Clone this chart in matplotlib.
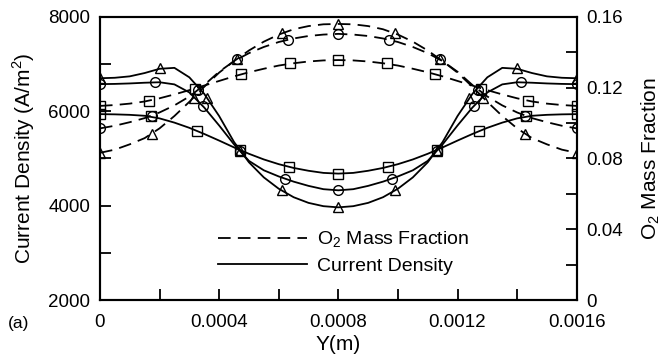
import numpy as np
import matplotlib
matplotlib.use("Agg")
from matplotlib import pyplot as plt
from matplotlib.ticker import MultipleLocator

plt.rcParams['font.family'] = ['Liberation Sans', 'DejaVu Sans']
plt.rcParams['mathtext.fontset'] = 'custom'
plt.rcParams['mathtext.rm'] = 'Liberation Sans'

# 曲线取样位置 (m)
y_pos = np.linspace(0, 0.0016, 33)

# 电流密度 (A/m2)，左轴，实线
cd_tri = [6700, 6710, 6740, 6810, 6900, 6920, 6720, 6370, 5900, 5350, 4920, 4600, 4360, 4180, 4060, 3990, 3965,
          3990, 4060, 4180, 4360, 4600, 4920, 5350, 5900, 6370, 6720, 6920, 6900, 6810, 6740, 6710, 6700]
cd_cir = [6575, 6580, 6590, 6605, 6615, 6570, 6400, 6080, 5700, 5300, 4950, 4750, 4620, 4510, 4420, 4350, 4326,
          4350, 4420, 4510, 4620, 4750, 4950, 5300, 5700, 6080, 6400, 6570, 6615, 6605, 6590, 6580, 6575]
cd_sq = [5940, 5935, 5925, 5905, 5850, 5760, 5650, 5520, 5380, 5235, 5100, 4980, 4880, 4800, 4740, 4695, 4680,
         4695, 4740, 4800, 4880, 4980, 5100, 5235, 5380, 5520, 5650, 5760, 5850, 5905, 5925, 5935, 5940]

# O2 质量分数，右轴，虚线
o2_tri = [0.0832, 0.0850, 0.0880, 0.0915, 0.0970, 0.1040, 0.1120, 0.1205, 0.1285, 0.1350, 0.1410, 0.1460, 0.1500,
          0.1530, 0.1548, 0.1558, 0.1560, 0.1558, 0.1548, 0.1530, 0.1500, 0.1460, 0.1410, 0.1350, 0.1285, 0.1205,
          0.1120, 0.1040, 0.0970, 0.0915, 0.0880, 0.0850, 0.0832]
o2_cir = [0.0970, 0.0985, 0.1005, 0.1028, 0.1060, 0.1100, 0.1150, 0.1215, 0.1290, 0.1350, 0.1395, 0.1430, 0.1458,
          0.1478, 0.1492, 0.1500, 0.1504, 0.1500, 0.1492, 0.1478, 0.1458, 0.1430, 0.1395, 0.1350, 0.1290, 0.1215,
          0.1150, 0.1100, 0.1060, 0.1028, 0.1005, 0.0985, 0.0970]
o2_sq = [0.1097, 0.1102, 0.1110, 0.1122, 0.1140, 0.1162, 0.1186, 0.1212, 0.1238, 0.1264, 0.1287, 0.1307, 0.1325,
         0.1338, 0.1348, 0.1354, 0.1356, 0.1354, 0.1348, 0.1338, 0.1325, 0.1307, 0.1287, 0.1264, 0.1238, 0.1212,
         0.1186, 0.1162, 0.1140, 0.1122, 0.1110, 0.1102, 0.1097]

# 标记点
mk_cd_tri_x = [0, 0.0002, 0.00036, 0.00047, 0.00061, 0.0008, 0.00099, 0.00113, 0.00124, 0.0014, 0.0016]
mk_cd_tri_y = [6700, 6915, 6290, 5155, 4326, 3965, 4326, 5155, 6290, 6915, 6700]
mk_cd_cir_x = [0, 0.000186, 0.000345, 0.00047, 0.00062, 0.0008, 0.00098, 0.00113, 0.001255, 0.001414, 0.0016]
mk_cd_cir_y = [6575, 6615, 6113, 5155, 4574, 4326, 4574, 5155, 6113, 6615, 6575]
mk_cd_sq_x = [0, 0.00017, 0.000327, 0.00047, 0.000634, 0.0008, 0.000966, 0.00113, 0.001273, 0.00143, 0.0016]
mk_cd_sq_y = [5936, 5900, 5581, 5177, 4823, 4681, 4823, 5177, 5581, 5900, 5936]

mk_o2_tri_x = [0, 0.000175, 0.000315, 0.00046, 0.00061, 0.0008, 0.00099, 0.00114, 0.001285, 0.001425, 0.0016]
mk_o2_tri_y = [0.0832, 0.0936, 0.1144, 0.1362, 0.1509, 0.1560, 0.1509, 0.1362, 0.1144, 0.0936, 0.0832]
mk_o2_cir_x = [0, 0.000175, 0.00033, 0.00046, 0.00063, 0.0008, 0.00097, 0.00114, 0.00127, 0.001425, 0.0016]
mk_o2_cir_y = [0.0970, 0.1038, 0.1185, 0.1362, 0.1471, 0.1504, 0.1471, 0.1362, 0.1185, 0.1038, 0.0970]
mk_o2_sq_x = [0, 0.000164, 0.00032, 0.000475, 0.000637, 0.0008, 0.000963, 0.001125, 0.00128, 0.001436, 0.0016]
mk_o2_sq_y = [0.1097, 0.1125, 0.1195, 0.1277, 0.1337, 0.1356, 0.1337, 0.1277, 0.1195, 0.1125, 0.1097]

fig = plt.figure(figsize=(6.66, 3.59), dpi=100)
ax = fig.add_axes([0.150, 0.164, 0.716, 0.789])
ax2 = ax.twinx()

lw = 1.3
mk = dict(linestyle='none', markerfacecolor='none', markeredgecolor='black', markeredgewidth=1.0, markersize=7)
dash = (0, (7, 4))

# 实线：电流密度
for yy in (cd_tri, cd_cir, cd_sq):
    ax.plot(y_pos, yy, color='black', lw=lw)
ax.plot(mk_cd_tri_x, mk_cd_tri_y, marker='^', **mk)
ax.plot(mk_cd_cir_x, mk_cd_cir_y, marker='o', **mk)
ax.plot(mk_cd_sq_x, mk_cd_sq_y, marker='s', **mk)

# 虚线：O2 质量分数
for yy in (o2_tri, o2_cir, o2_sq):
    ax2.plot(y_pos, yy, color='black', lw=lw, linestyle=dash)
ax2.plot(mk_o2_tri_x, mk_o2_tri_y, marker='^', **mk)
ax2.plot(mk_o2_cir_x, mk_o2_cir_y, marker='o', **mk)
ax2.plot(mk_o2_sq_x, mk_o2_sq_y, marker='s', **mk)

ax.set_xlim(0, 0.0016)
ax.set_ylim(2000, 8000)
ax2.set_ylim(0, 0.16)

ax.xaxis.set_minor_locator(MultipleLocator(0.0002))
ax.yaxis.set_major_locator(MultipleLocator(2000))
ax.yaxis.set_minor_locator(MultipleLocator(1000))
ax2.yaxis.set_minor_locator(MultipleLocator(0.02))
ax.set_xticks([0, 0.0004, 0.0008, 0.0012, 0.0016])
ax.set_xticklabels(['0', '0.0004', '0.0008', '0.0012', '0.0016'])
ax2.set_yticks([0, 0.04, 0.08, 0.12, 0.16])
ax2.set_yticklabels(['0', '0.04', '0.08', '0.12', '0.16'])

for a in (ax, ax2):
    a.tick_params(which='both', direction='in', width=1.3, labelsize=13.5, pad=7, length=8)
    for s in a.spines.values():
        s.set_linewidth(1.5)
ax.tick_params(axis='x', pad=10)

ax.set_xlabel('Y(m)', fontsize=15, labelpad=3)
ax.set_ylabel('Current Density (A/m$^2$)', fontsize=15, labelpad=8)
ax2.set_ylabel('O$_2$ Mass Fraction', fontsize=15, labelpad=12)

# 图例
h1, = ax.plot([], [], color='black', lw=lw, linestyle=dash, label='O$_2$ Mass Fraction')
h2, = ax.plot([], [], color='black', lw=lw, label='Current Density')
ax.legend(handles=[h1, h2], loc='upper left', bbox_to_anchor=(0.21, 0.31), frameon=False,
          fontsize=14, handlelength=4.6, handletextpad=0.5, labelspacing=0.35)

fig.text(0.012, 0.085, '(a)', fontsize=12.5)

plt.savefig('out.png', dpi=100)
